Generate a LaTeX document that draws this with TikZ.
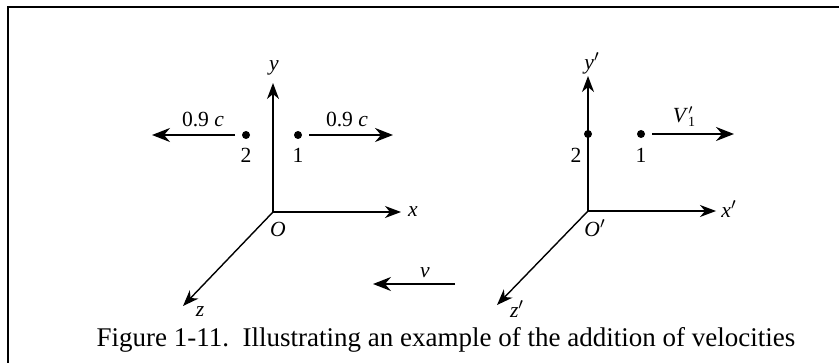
\documentclass[tikz,border=0pt]{standalone}
\usepackage{fontspec}
\setmainfont{Liberation Serif}
\usetikzlibrary{arrows.meta}
\begin{document}
\begin{tikzpicture}[x=0.5pt,y=-0.5pt,
  axis/.style={line width=0.7pt,-{Stealth[length=8,width=6,inset=2.5]}},
  vel/.style={line width=1pt,-{Stealth[length=9,width=7,inset=3]}},
  dot/.style={circle,fill=black,inner sep=0pt,minimum size=8*0.5pt},
  lbl/.style={inner sep=0pt,font=\fontsize{10.8}{13}\selectfont},
  ilbl/.style={lbl,font=\fontsize{10.8}{13}\selectfont\itshape},
  frameline/.style={line width=1.2pt}]
\useasboundingbox (0,0) rectangle (839,363);
% frame
\coordinate (fbl) at (8,363);
\coordinate (ftl) at (8,7);
\coordinate (ftr) at (839,7);
\draw[frameline] (fbl) -- (ftl) -- (ftr);
% left system
\coordinate (O) at (273,212);
\coordinate (Y) at (273,83);
\coordinate (X) at (401,212);
\coordinate (Z) at (183,306);
\draw[axis] (O) -- (Y);
\draw[axis] (O) -- (X);
\draw[axis] (O) -- (Z);
\node[ilbl] (ly) at (274,68) {y};
\node[ilbl] (lx) at (413,212) {x};
\node[ilbl] (lz) at (200,312) {z};
\node[ilbl] (lO) at (278,229) {O};
\node[dot] (d2) at (246,135) {};
\node[dot] (d1) at (298,135) {};
\node[lbl] (l2) at (246,155) {2};
\node[lbl] (l1) at (298,155) {1};
\coordinate (a2s) at (235,135);
\coordinate (a2e) at (152,135);
\coordinate (a1s) at (309,135);
\coordinate (a1e) at (393,135);
\draw[vel] (a2s) -- (a2e);
\draw[vel] (a1s) -- (a1e);
\node[lbl] (v2) at (203,119) {0.9 \textit{c}};
\node[lbl] (v1) at (347,119) {0.9 \textit{c}};
% right system
\coordinate (Op) at (588,211);
\coordinate (Yp) at (588,76);
\coordinate (Xp) at (716,211);
\coordinate (Zp) at (497,305);
\draw[axis] (Op) -- (Yp);
\draw[axis] (Op) -- (Xp);
\draw[axis] (Op) -- (Zp);
\node[ilbl] (lyp) at (592,63) {y$'$};
\node[ilbl] (lxp) at (729,209) {x$'$};
\node[ilbl] (lzp) at (517,309) {z$'$};
\node[ilbl] (lOp) at (595,228) {O$'$};
\node[dot] (e2) at (588,134) {};
\node[dot] (e1) at (641,134) {};
\node[lbl] (m2) at (576,155) {2};
\node[lbl] (m1) at (641,155) {1};
\coordinate (b1s) at (652,134);
\coordinate (b1e) at (734,134);
\draw[vel] (b1s) -- (b1e);
\node[lbl] (vp) at (684,117) {\textit{V}\makebox[0pt][l]{\raisebox{0.75ex}{\scriptsize$\prime$}}\raisebox{-0.45ex}{\scriptsize 1}};
% frame velocity
\coordinate (vs) at (455,284);
\coordinate (ve) at (373,284);
\draw[vel] (vs) -- (ve);
\node[ilbl] (lv) at (425,273) {v};
% caption
\node[lbl,font=\fontsize{13.5}{16}\selectfont] (cap) at (446,340) {Figure 1-11.\ \ Illustrating an example of the addition of velocities};
\end{tikzpicture}
\end{document}
